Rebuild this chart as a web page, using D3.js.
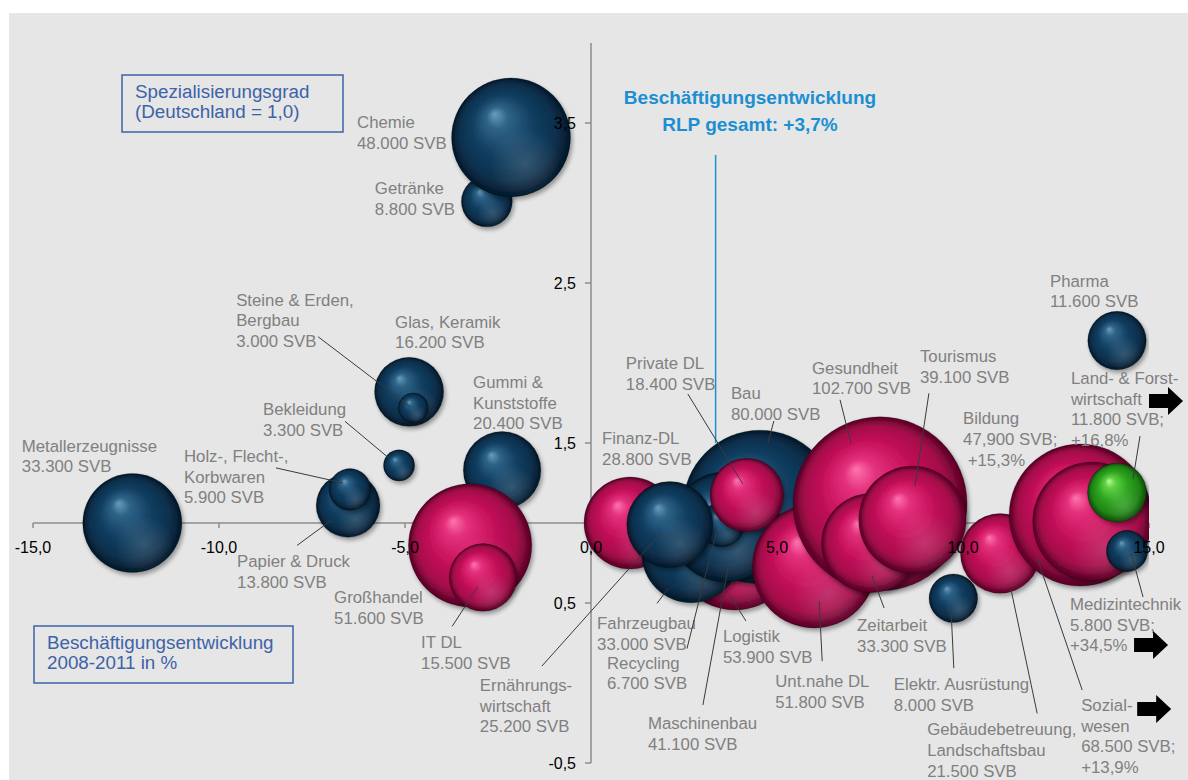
<!DOCTYPE html>
<html><head><meta charset="utf-8">
<script src="https://cdn.jsdelivr.net/npm/d3@7"></script>
<style>
body{margin:0;background:#fff;}
svg{display:block;font-family:"Liberation Sans",Arial,sans-serif;}
</style>
</head><body>
<svg id="chart" width="1188" height="780"></svg>
<script>
// ---------------- DATA (draw order) ----------------
const names = ["Getränke","Chemie","Metallerzeugnisse","Papier & Druck","Holz, Flecht, Korbwaren","Bekleidung","Glas, Keramik","Steine & Erden, Bergbau","Gummi & Kunststoffe","Großhandel","IT DL","Finanz-DL","Logistik","Fahrzeugbau","Bau","Maschinenbau","Recycling","Ernährungswirtschaft","Private DL","Unt.nahe DL","Gesundheit","Zeitarbeit","Tourismus","Elektr. Ausrüstung","Gebäudebetreuung, Landschaftsbau","Sozialwesen","Bildung","Land- & Forstwirtschaft","Medizintechnik","Pharma"];
// Beschäftigungsentwicklung 2008-2011 in % (as drawn)
const growth = [-2.80,-2.15,-12.33,-6.53,-6.48,-5.16,-4.89,-4.78,-2.39,-3.25,-2.90,1.05,3.87,2.69,4.54,3.60,3.52,2.12,4.19,6.00,7.77,7.53,8.64,9.74,11.00,13.15,13.47,14.14,14.41,14.14];
// Spezialisierungsgrad (Deutschland = 1,0)
const special = [3.01,3.41,1.00,1.11,1.21,1.36,1.82,1.72,1.33,0.86,0.66,1.00,0.85,0.81,1.10,0.975,0.99,0.99,1.175,0.73,1.12,0.875,1.02,0.53,0.81,1.05,1.01,1.19,0.825,2.14];
// Sozialversicherungspflichtig Beschäftigte
const svb = [8800,48000,33300,13800,5900,3300,16200,3000,20400,51600,15500,28800,53900,33000,80000,41100,6700,25200,18400,51800,102700,33300,39100,8000,21500,68500,47900,11800,5800,11600];
const group = ["ind","ind","ind","ind","ind","ind","ind","ind","ind","dl","dl","dl","dl","ind","ind","ind","ind","ind","dl","dl","dl","dl","dl","ind","dl","dl","dl","agr","ind","ind"];
const labelTexts = [
 "Getränke|8.800 SVB","Chemie|48.000 SVB","Metallerzeugnisse|33.300 SVB","Papier & Druck|13.800 SVB",
 "Holz-, Flecht-,|Korbwaren|5.900 SVB","Bekleidung|3.300 SVB","Glas, Keramik|16.200 SVB","Steine & Erden,|Bergbau|3.000 SVB",
 "Gummi &|Kunststoffe|20.400 SVB","Großhandel|51.600 SVB","IT DL|15.500 SVB","Finanz-DL|28.800 SVB","Logistik|53.900 SVB",
 "Fahrzeugbau|33.000 SVB","Bau|80.000 SVB","Maschinenbau|41.100 SVB","Recycling|6.700 SVB","Ernährungs-|wirtschaft|25.200 SVB",
 "Private DL|18.400 SVB","Unt.nahe DL|51.800 SVB","Gesundheit|102.700 SVB","Zeitarbeit|33.300 SVB","Tourismus|39.100 SVB",
 "Elektr. Ausrüstung|8.000 SVB","Gebäudebetreuung,|Landschaftsbau|21.500 SVB","Sozial-|wesen|68.500 SVB;|+13,9%",
 "Bildung|47,900 SVB;|\u00a0+15,3%","Land- & Forst-|wirtschaft|11.800 SVB;|+16,8%","Medizintechnik|5.800 SVB;|+34,5%","Pharma|11.600 SVB"];
const offScale = [false,false,false,false,false,false,false,false,false,false,false,false,false,false,false,false,false,false,false,false,false,false,false,false,false,true,false,true,true,false];
const xTicks = [-15,-10,-5,0,5,10,15];
const yTicks = [-0.5,0.5,1.5,2.5,3.5];
const rlpLineX = 3.35;          // Beschäftigungsentwicklung RLP gesamt (line as drawn)
const rlpLineY = [1.5, 3.3];
const titleLines = ["Beschäftigungsentwicklung","RLP gesamt: +3,7%"];
const yBoxLines = ["Spezialisierungsgrad","(Deutschland = 1,0)"];
const xBoxLines = ["Beschäftigungsentwicklung","2008-2011 in %"];

// ---------------- LAYOUT (label offsets from bubble centre, px) ----------------
const labelLayout = [
 [-112,-13,null],[-154,-15,null],[-110.5,-77.5,null],[-111,56,[60,-16,-17,15]],
 [-166,-33.5,[92,12,-7,-6.5]],[-136,-56,[82,12,-11,-8]],[-14,-70,null],[-177,-108,[82,37,-3,-1]],
 [-29,-88,null],[-136,52,null],[-62,65,[31,-16,-5,9]],[-28,-85,null],[-12,89,[23,-15,-6,47]],
 [-94,70,[60,-20,-23,35]],[-29,-114,[43,28,8,-64]],[-77,196,[55,-18,3,41]],[-115,138,[80,-14,-5,5]],
 [-190,160.5,[62,-19,-8,7.5]],[-121,-132,[62,31,-4,-11]],[-39,115,[47,-20,5,35]],[-68,-136,[28,32,-29,-60]],
 [-14,82,[27,-17,1,33]],[7.5,-163.5,[9,37,2.5,-33.5]],[-59.5,86,[60,-16,-2.5,7]],[-73,176,[110,-16,11,37]],
 [1,190,[1,-15,-43,43]],[-129,-103,null],[-46,-114.5,[69,58,16,-13.5]],[-57,53,[73,-7,4,2]],[-67,-60,null]];
const arrowLayout = {25:[56,4],27:[78,23],28:[64,41]}; // offset from label anchor

const W = 1188, H = 780;
const x = d3.scaleLinear().domain([-15,15]).range([33,1149]);
const y = d3.scaleLinear().domain([-0.5,4.0]).range([763,43]);
const r = d3.scaleSqrt().domain([0,102700]).range([0,87]);
const fmt = v => d3.format(".1f")(v).replace(".",",").replace("\u2212","-");

const svg = d3.select("#chart");
const defs = svg.append("defs");

const palettes = {
  ind:[["0%","#6a9cbc"],["18%","#2f6488"],["50%","#123f62"],["82%","#0b2f4c"],["100%","#041828"]],
  dl:[["0%","#ff74ad"],["18%","#e4317d"],["50%","#c7125b"],["82%","#a50b4a"],["100%","#560325"]],
  agr:[["0%","#b4ff96"],["18%","#5fd044"],["50%","#2ea51f"],["82%","#1f8314"],["100%","#0c4706"]]
};
Object.entries(palettes).forEach(([k,stops])=>{
  const g = defs.append("radialGradient").attr("id","g-"+k)
    .attr("cx","50%").attr("cy","50%").attr("r","50%").attr("fx","36%").attr("fy","30%");
  stops.forEach(s=>g.append("stop").attr("offset",s[0]).attr("stop-color",s[1]));
});
const refl = defs.append("radialGradient").attr("id","refl").attr("cx","62%").attr("cy","72%").attr("r","30%");
refl.append("stop").attr("offset","0%").attr("stop-color","#fff").attr("stop-opacity",0.16);
refl.append("stop").attr("offset","100%").attr("stop-color","#fff").attr("stop-opacity",0);

const f = defs.append("filter").attr("id","sh").attr("x","-30%").attr("y","-30%").attr("width","170%").attr("height","170%");
f.append("feGaussianBlur").attr("in","SourceAlpha").attr("stdDeviation",2.2);
f.append("feOffset").attr("dx",1.5).attr("dy",2.5).attr("result","o");
f.append("feComponentTransfer").append("feFuncA").attr("type","linear").attr("slope",0.35);
const fm = f.append("feMerge"); fm.append("feMergeNode"); fm.append("feMergeNode").attr("in","SourceGraphic");

defs.append("clipPath").attr("id","plotclip").append("rect")
  .attr("x",0).attr("y",0).attr("width",x(15)).attr("height",H);

// background panel
svg.append("rect").attr("x",9).attr("y",13).attr("width",W-9).attr("height",H-13).attr("fill","#e6e6e6");

// axes lines & ticks (behind bubbles)
const axisCol = "#8c8c8c";
const axG = svg.append("g");
axG.append("line").attr("x1",x(-15)).attr("x2",x(15)).attr("y1",y(1)).attr("y2",y(1)).attr("stroke",axisCol).attr("stroke-width",1.5);
axG.append("line").attr("x1",x(0)).attr("x2",x(0)).attr("y1",y(-0.5)).attr("y2",y(4)).attr("stroke",axisCol).attr("stroke-width",1.5);
xTicks.forEach(t=>axG.append("line").attr("x1",x(t)).attr("x2",x(t)).attr("y1",y(1)).attr("y2",y(1)+5).attr("stroke",axisCol).attr("stroke-width",1.5));
yTicks.forEach(t=>axG.append("line").attr("x1",x(0)-6).attr("x2",x(0)).attr("y1",y(t)).attr("y2",y(t)).attr("stroke",axisCol).attr("stroke-width",1.5));

// RLP line
svg.append("line").attr("x1",x(rlpLineX)).attr("x2",x(rlpLineX)).attr("y1",y(rlpLineY[0])).attr("y2",y(rlpLineY[1]))
  .attr("stroke","#1b8fd2").attr("stroke-width",1.5);

// bubbles
const data = names.map((n,i)=>({n,i,gx:growth[i],sp:special[i],s:svb[i],g:group[i]}));
const bG = svg.append("g").attr("clip-path","url(#plotclip)");
const nodes = bG.selectAll("g.b").data(data).join("g").attr("class","b");
nodes.append("circle").attr("cx",d=>x(d.gx)).attr("cy",d=>y(d.sp)).attr("r",d=>r(d.s))
  .attr("fill",d=>"url(#g-"+d.g+")").attr("filter","url(#sh)")
  .attr("stroke","rgba(0,0,0,0.25)").attr("stroke-width",0.8);
nodes.append("circle").attr("cx",d=>x(d.gx)).attr("cy",d=>y(d.sp)).attr("r",d=>r(d.s)).attr("fill","url(#refl)");

// tick labels (on top)
const tl = svg.append("g").attr("font-size","16px").attr("fill","#000");
xTicks.forEach(t=>tl.append("text").attr("x",x(t)).attr("y",y(1)+30).attr("text-anchor","middle").text(fmt(t)));
yTicks.forEach(t=>tl.append("text").attr("x",x(0)-15).attr("y",y(t)+6).attr("text-anchor","end").text(fmt(t)));

// leader lines and labels
const lh = 20.6;
const lab = svg.append("g");
data.forEach(d=>{
  const [dx,dy,lead] = labelLayout[d.i];
  const cx = x(d.gx), cy = y(d.sp);
  const lx = cx+dx, ly = cy+dy;
  if(lead){
    lab.append("line").attr("x1",lx+lead[0]).attr("y1",ly+lead[1]).attr("x2",cx+lead[2]).attr("y2",cy+lead[3])
      .attr("stroke","#3a3a3a").attr("stroke-width",1);
  }
  const t = lab.append("text").attr("font-size","16.8px").attr("fill","#808080");
  labelTexts[d.i].split("|").forEach((s,k)=>t.append("tspan").attr("x",lx).attr("y",ly+6+k*lh).text(s));
  if(offScale[d.i]){
    const [ax,ay] = arrowLayout[d.i];
    const a0 = lx+ax, ac = ly+ay;
    const p = d3.path();
    p.moveTo(a0,ac-7); p.lineTo(a0+19,ac-7); p.lineTo(a0+19,ac-14); p.lineTo(a0+34,ac);
    p.lineTo(a0+19,ac+14); p.lineTo(a0+19,ac+7); p.lineTo(a0,ac+7); p.closePath();
    lab.append("path").attr("d",p.toString()).attr("fill","#000");
  }
});

// title
const tt = svg.append("text").attr("font-size","19px").attr("font-weight","bold").attr("fill","#1b8fd2").attr("text-anchor","middle");
titleLines.forEach((s,k)=>tt.append("tspan").attr("x",750).attr("y",104+k*27).text(s));

// boxes
function box(x0,y0,w,h,lines){
  svg.append("rect").attr("x",x0).attr("y",y0).attr("width",w).attr("height",h)
    .attr("fill","none").attr("stroke","#3d63a8").attr("stroke-width",1.5);
  const t = svg.append("text").attr("font-size","18.8px").attr("fill","#3d63a8");
  lines.forEach((s,k)=>t.append("tspan").attr("x",x0+13).attr("y",y0+23+k*20).text(s));
}
box(122,75,221,57,yBoxLines);
box(34,626,259,57,xBoxLines);
</script>
</body></html>
